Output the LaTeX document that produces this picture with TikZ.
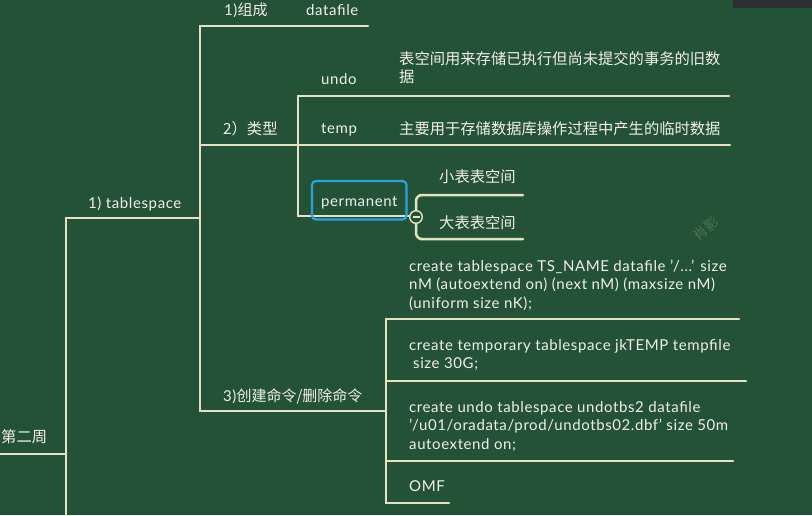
\documentclass[tikz,border=0pt]{standalone}
\usepackage{fontspec}
\setmainfont[LetterSpace=4]{Lato}
\newfontfamily\cjk{Noto Sans CJK SC}
\definecolor{board}{HTML}{235236}
\definecolor{chalk}{HTML}{E6E1C4}
\definecolor{ink}{HTML}{F2F0E6}
\definecolor{selblue}{HTML}{2AA3E0}
\definecolor{bar}{HTML}{2C3033}
\begin{document}
\begin{tikzpicture}[x=1pt,y=-1pt,
  branch/.style={draw=chalk,line width=2.5pt,line cap=round},
  lbl/.style={text=ink,font=\fontsize{15}{18.5}\selectfont,inner sep=0pt,anchor=base west},
  zh/.style={text=ink,font=\fontsize{15.3}{18.5}\selectfont\cjk,inner sep=0pt,anchor=base west},
  selbox/.style={draw=selblue,line width=2.2pt,rounded corners=4pt},
  foldmark/.style={draw=chalk,line width=1.4pt,fill=board}
]
\fill[board] (0,0) rectangle (812,515);
\useasboundingbox (0,0) rectangle (812,515);
\fill[bar] (733,0) rectangle (812,8);

% ---- coordinates of the tree
\coordinate (r0) at (0,454);   \coordinate (r1) at (66,454);
\coordinate (t0) at (66,218);  \coordinate (t1) at (200,218);
\coordinate (tb) at (66,515);
\coordinate (a0) at (200,26);  \coordinate (a1) at (368,26);
\coordinate (b0) at (200,145); \coordinate (b1) at (298,145);
\coordinate (c0) at (200,411); \coordinate (c1) at (386,411);
\coordinate (u0) at (298,96);  \coordinate (u1) at (729,96);
\coordinate (m1) at (730,145);
\coordinate (p0) at (298,216); \coordinate (p1) at (410,216);
\coordinate (s0) at (426,195); \coordinate (s1) at (523,195);
\coordinate (l0) at (426,239); \coordinate (l1) at (523,239);
\coordinate (k1) at (386,319); \coordinate (k1e) at (739,319);
\coordinate (k2) at (386,381); \coordinate (k2e) at (746,381);
\coordinate (k3) at (386,461); \coordinate (k3e) at (733,461);
\coordinate (k4) at (386,503); \coordinate (k4e) at (449,503);

% ---- connectors
\draw[branch] (r0) -- (r1);
\draw[branch] (t0) -- (tb);
\draw[branch] (t0) -- (t1);
\draw[branch] (a1) -- (a0) -- (c0) -- (c1);
\draw[branch] (b0) -- (b1);
\draw[branch] (u1) -- (u0) -- (p0) -- (p1);
\draw[branch] (b1) -- (m1);
\draw[branch] (k1e) -- (k1) -- (k4) -- (k4e);
\draw[branch] (k2) -- (k2e);
\draw[branch] (k3) -- (k3e);
\draw[branch,rounded corners=6pt] (s1) -- (s0) -- (416,195) -- (416,239) -- (l0) -- (l1);

% ---- labels
\node[zh] (root) at (1,442) {第二周};
\node[lbl] (ts) at (88,208) {1) tablespace};
\node[lbl] (comp) at (224,15) {1)\cjk 组成};
\node[lbl] (df) at (306,15) {datafile};
\node[zh] (type) at (223,134) {2）类型};
\node[lbl] (undo) at (321,84) {undo};
\node[lbl] (temp) at (321,133) {temp};
\node[lbl] (perm) at (321,206) {permanent};
\node[zh] (undoA) at (399,64) {表空间用来存储已执行但尚未提交的事务的旧数};
\node[zh] (undoB) at (399,82) {据};
\node[zh] (tempD) at (399,134) {主要用于存储数据库操作过程中产生的临时数据};
\node[zh] (small) at (439,182) {小表表空间};
\node[zh] (big) at (439,228) {大表表空间};
\node[lbl] (cmd) at (223,401) {3)\cjk 创建命令/删除命令};
\node[lbl] (c1a) at (409,271) {create tablespace TS\_NAME datafile '/...' size};
\node[lbl] (c1b) at (409,289.5) {nM (autoextend on) (next nM) (maxsize nM)};
\node[lbl] (c1c) at (409,308) {(uniform size nK);};
\node[lbl] (c2a) at (409,350) {create temporary tablespace jkTEMP tempfile};
\node[lbl] (c2b) at (413,368) {size 30G;};
\node[lbl] (c3a) at (409,412) {create undo tablespace undotbs2 datafile};
\node[lbl] (c3b) at (409,430.5) {'/u01/oradata/prod/undotbs02.dbf' size 50m};
\node[lbl] (c3c) at (409,449) {autoextend on;};
\node[lbl] (omf) at (409,491) {OMF};

% ---- selection box and fold mark
\draw[selbox] (312,181) rectangle (406.5,219.5);
\draw[foldmark] (416,217) circle (6.3);
\draw[draw=chalk,line width=1.3pt] (412.5,217) -- (419.5,217);

% ---- watermark
\node[text=chalk!22!board,font=\fontsize{14}{14}\selectfont\cjk,rotate=40,inner sep=0pt] (wm) at (706,228) {肖影};
\end{tikzpicture}
\end{document}
